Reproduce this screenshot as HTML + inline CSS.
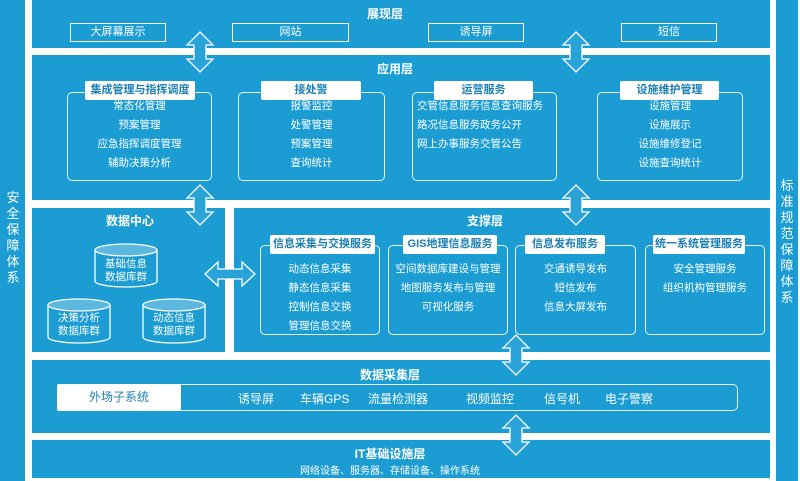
<!DOCTYPE html>
<html><head><meta charset="utf-8"><style>
*{margin:0;padding:0;box-sizing:border-box}
body{width:800px;height:481px;background:#fff;position:relative;overflow:hidden;font-family:"Liberation Sans","Noto Sans CJK SC",sans-serif;color:#fff}
.b{position:absolute;background:#1b9cd3}
.t{position:absolute;font-size:11px;white-space:nowrap;text-align:center}
.h{font-weight:bold;font-size:12px}
.ob{position:absolute;border:1px solid #fff;font-size:11px;text-align:center}
.rb{position:absolute;border:1px solid #e8f6fc;border-radius:5px}
.pill{position:absolute;background:#fff;color:#1b7fb5;font-size:11px;font-weight:bold;text-align:center;border-radius:2px;height:19px;line-height:19px}
.list{position:absolute;font-size:10.5px;text-align:center;line-height:19px}
.vt{position:absolute;font-size:13px;line-height:16px;width:16px;text-align:center}
</style></head><body>
<div class="b" style="left:0;top:0;width:25px;height:481px"></div>
<div class="b" style="left:776px;top:0;width:22px;height:481px"></div>
<div class="b" style="left:32px;top:0;width:738px;height:48px"></div>
<div class="b" style="left:32px;top:55px;width:738px;height:145px"></div>
<div class="b" style="left:32px;top:208px;width:193px;height:144px"></div>
<div class="b" style="left:234px;top:208px;width:536px;height:144px"></div>
<div class="b" style="left:32px;top:360px;width:738px;height:73px"></div>
<div class="b" style="left:32px;top:440px;width:738px;height:38px"></div>

<div class="vt" style="left:5px;top:190px">安<br>全<br>保<br>障<br>体<br>系</div>
<div class="vt" style="left:779px;top:178px">标<br>准<br>规<br>范<br>保<br>障<br>体<br>系</div>

<div class="t h" style="left:360px;top:5px;width:50px">展现层</div>
<div class="ob" style="left:70px;top:23px;width:96px;height:19px;line-height:17px">大屏幕展示</div>
<div class="ob" style="left:232px;top:23px;width:117px;height:19px;line-height:17px">网站</div>
<div class="ob" style="left:428px;top:23px;width:96px;height:19px;line-height:17px">诱导屏</div>
<div class="ob" style="left:621px;top:23px;width:96px;height:19px;line-height:17px">短信</div>

<div class="t h" style="left:370px;top:60px;width:50px">应用层</div>
<div class="rb" style="left:67px;top:92px;width:145px;height:89px"></div>
<div class="pill" style="left:85px;top:81px;width:110px">集成管理与指挥调度</div>
<div class="list" style="left:67px;top:97px;width:145px">常态化管理<br>预案管理<br>应急指挥调度管理<br>辅助决策分析</div>
<div class="rb" style="left:238px;top:92px;width:147px;height:89px"></div>
<div class="pill" style="left:261px;top:81px;width:100px">接处警</div>
<div class="list" style="left:238px;top:97px;width:147px">报警监控<br>处警管理<br>预案管理<br>查询统计</div>
<div class="rb" style="left:412px;top:92px;width:145px;height:89px"></div>
<div class="pill" style="left:434px;top:81px;width:99px">运营服务</div>
<div class="list" style="left:417px;top:97px;width:140px;text-align:left">交管信息服务信息查询服务<br>路况信息服务政务公开<br>网上办事服务交管公告</div>
<div class="rb" style="left:597px;top:92px;width:146px;height:89px"></div>
<div class="pill" style="left:620px;top:81px;width:99px">设施维护管理</div>
<div class="list" style="left:597px;top:97px;width:146px">设施管理<br>设施展示<br>设施维修登记<br>设施查询统计</div>

<div class="t h" style="left:100px;top:212px;width:60px">数据中心</div>
<div class="t h" style="left:460px;top:212px;width:50px">支撑层</div>

<svg style="position:absolute;left:0;top:0" width="800" height="481">
<g fill="#1b9cd3" stroke="#fff" stroke-width="1.3">
<path d="M95 250 V281 A31 6 0 0 0 157 281 V250" />
<ellipse cx="126" cy="250" rx="31" ry="6" fill="#5db8e0"/>
<path d="M48 305 V337 A31 6 0 0 0 110 337 V305"/>
<ellipse cx="79" cy="305" rx="31" ry="6" fill="#5db8e0"/>
<path d="M143 305 V337 A31 6 0 0 0 205 337 V305"/>
<ellipse cx="174" cy="305" rx="31" ry="6" fill="#5db8e0"/>
</g>
<g fill="#2aa3d8" stroke="#fff" stroke-width="1.3">
<path id="va" d="M200 32 L213 45 L206 45 L206 59 L213 59 L200 72 L187 59 L194 59 L194 45 L187 45 Z"/>
<use href="#va" x="376"/>
<use href="#va" y="153"/>
<use href="#va" x="376" y="153"/>
<use href="#va" x="316" y="303"/>
<use href="#va" x="316" y="383"/>
<path d="M205 274 L218 262 L218 269 L242 269 L242 262 L255 274 L242 286 L242 279 L218 279 L218 286 Z"/>
</g>
</svg>
<div class="t" style="left:96px;top:258px;width:60px;line-height:13px;font-size:10.5px">基础信息<br>数据库群</div>
<div class="t" style="left:49px;top:312px;width:60px;line-height:13px;font-size:10.5px">决策分析<br>数据库群</div>
<div class="t" style="left:144px;top:312px;width:60px;line-height:13px;font-size:10.5px">动态信息<br>数据库群</div>

<div class="rb" style="left:260px;top:245px;width:120px;height:90px"></div>
<div class="pill" style="left:270px;top:235px;width:105px">信息采集与交换服务</div>
<div class="list" style="left:260px;top:260px;width:120px">动态信息采集<br>静态信息采集<br>控制信息交换<br>管理信息交换</div>
<div class="rb" style="left:388px;top:245px;width:120px;height:90px"></div>
<div class="pill" style="left:403px;top:235px;width:94px">GIS地理信息服务</div>
<div class="list" style="left:388px;top:260px;width:120px">空间数据库建设与管理<br>地图服务发布与管理<br>可视化服务</div>
<div class="rb" style="left:515px;top:245px;width:121px;height:90px"></div>
<div class="pill" style="left:525px;top:235px;width:80px">信息发布服务</div>
<div class="list" style="left:515px;top:260px;width:121px">交通诱导发布<br>短信发布<br>信息大屏发布</div>
<div class="rb" style="left:645px;top:245px;width:120px;height:90px"></div>
<div class="pill" style="left:653px;top:235px;width:92px">统一系统管理服务</div>
<div class="list" style="left:645px;top:260px;width:120px">安全管理服务<br>组织机构管理服务</div>

<div class="t h" style="left:355px;top:366px;width:70px">数据采集层</div>
<div class="rb" style="left:57px;top:384px;width:681px;height:27px"></div>
<div class="pill" style="left:57px;top:384px;width:124px;height:27px;line-height:27px;font-weight:normal;font-size:12px;color:#1b7fb5">外场子系统</div>
<div class="t" style="left:238px;top:390px;font-size:12px">诱导屏</div>
<div class="t" style="left:300px;top:390px;font-size:12px">车辆GPS</div>
<div class="t" style="left:368px;top:390px;font-size:12px">流量检测器</div>
<div class="t" style="left:466px;top:390px;font-size:12px">视频监控</div>
<div class="t" style="left:544px;top:390px;font-size:12px">信号机</div>
<div class="t" style="left:605px;top:390px;font-size:12px">电子警察</div>

<div class="t h" style="left:350px;top:445px;width:80px">IT基础设施层</div>
<div class="t" style="left:290px;top:462px;width:200px;font-size:10px">网络设备、服务器、存储设备、操作系统</div>
</body></html>
